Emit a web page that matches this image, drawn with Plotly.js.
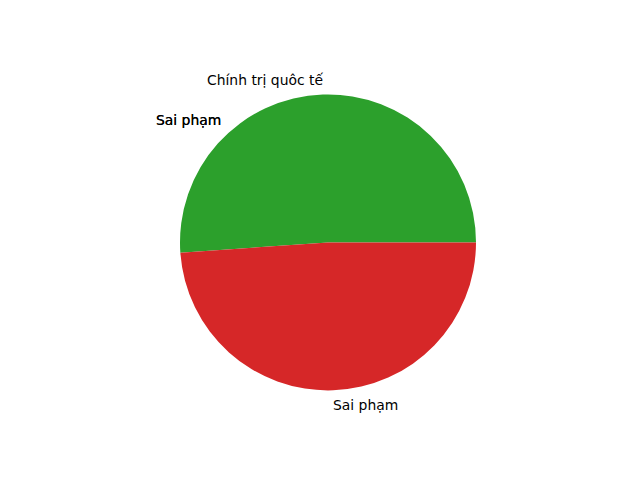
<!DOCTYPE html>
<html>
<head>
<meta charset="utf-8">
<script src="https://cdn.plot.ly/plotly-3.0.1.min.js"></script>
<style>html,body{margin:0;padding:0;background:#fff;}#chart{width:640px;height:480px;}</style>
</head>
<body>
<div id="chart"></div>
<script>
// Slice data (counter-clockwise from 3 o'clock, as in the reference)
const sliceLabels = ["Chính trị quôc tế", "Sai phạm"];
const sliceValues = [23, 22];
const sliceColors = ["#2ca02c", "#d62728"];
// Extra overlapping labels seen in the reference (label text, angle in degrees)
const extraLabels = ["Sai phạm", "Sai phạm"];
const extraAngles = [131.4, 131.4];

const W = 640, H = 480;
const cx = 328, cy = 242.4, R = 148;

const total = sliceValues.reduce((a, b) => a + b, 0);
const annotations = [];
function addLabel(text, angDeg) {
  const a = angDeg * Math.PI / 180;
  const px = cx + 1.1 * R * Math.cos(a);
  const py = cy - 1.1 * R * Math.sin(a);
  const left = Math.cos(a) < 0;
  annotations.push({
    text: text, xref: "paper", yref: "paper",
    x: px / W, y: 1 - py / H,
    xanchor: left ? "right" : "left", yanchor: "middle",
    xshift: left ? 1 : -1,
    borderpad: 0, borderwidth: 0,
    showarrow: false,
    font: {family: "DejaVu Sans", size: 13.9, color: "#000"}
  });
}
let acc = 0;
sliceValues.forEach((v, i) => {
  const mid = (acc + v / 2) / total * 360;
  addLabel(sliceLabels[i], mid);
  acc += v;
});
extraLabels.forEach((t, i) => addLabel(t, extraAngles[i]));

// Plotly: with counterclockwise direction the first slice ENDS at `rotation`
// (degrees clockwise from 12 o'clock); make it start at 3 o'clock instead.
const firstSpan = sliceValues[0] / total * 360;
const trace = {
  type: "pie",
  labels: sliceLabels,
  values: sliceValues,
  marker: {colors: sliceColors, line: {width: 0}},
  sort: false,
  direction: "counterclockwise",
  rotation: 90 - firstSpan,
  textinfo: "none",
  hoverinfo: "none",
  showlegend: false,
  domain: {
    x: [(cx - R) / W, (cx + R) / W],
    y: [1 - (cy + R) / H, 1 - (cy - R) / H]
  }
};

Plotly.newPlot("chart", [trace], {
  width: W, height: H,
  margin: {l: 0, r: 0, t: 0, b: 0},
  paper_bgcolor: "#fff",
  showlegend: false,
  annotations: annotations
}, {staticPlot: true});
</script>
</body>
</html>
